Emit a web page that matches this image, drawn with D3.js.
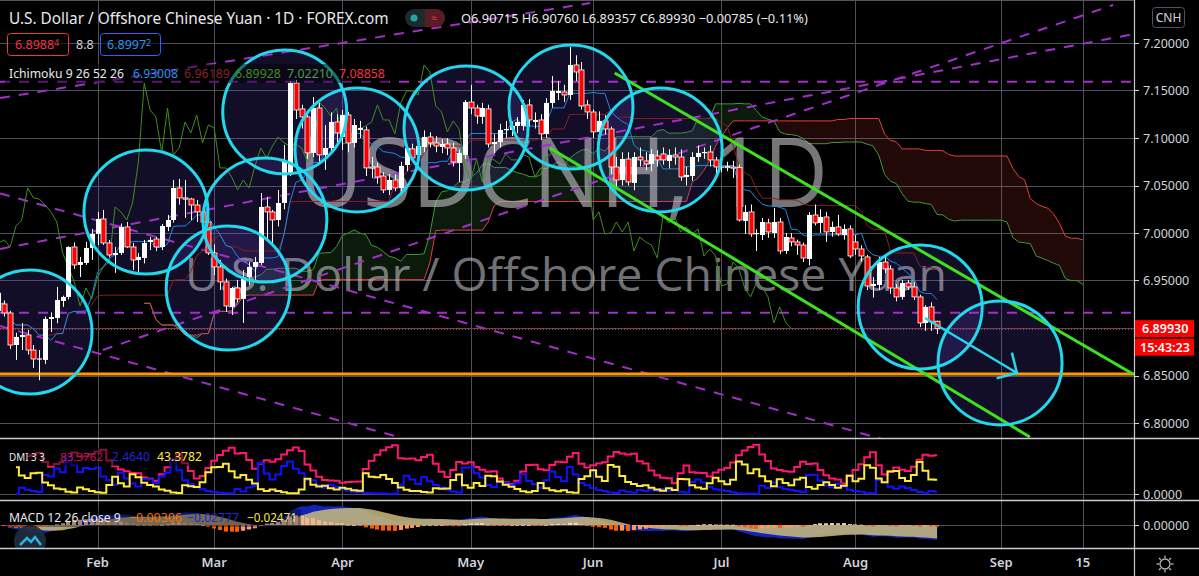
<!DOCTYPE html>
<html><head><meta charset="utf-8">
<script src="https://cdn.jsdelivr.net/npm/d3@7"></script>
<style>
html,body{margin:0;padding:0;background:#000;overflow:hidden;}
svg{display:block;}
</style></head><body>
<svg id="c" width="1199" height="576"></svg>
<script>
// ---------------- DATA ----------------
// daily OHLC, USD/CNH, 1D bars from 9 Jan 2020 to 21 Aug 2020
const ohlc = [
[6.918,6.940,6.912,6.937],[6.9253,6.929,6.912,6.9158],[6.9158,6.918,6.878,6.8821],[6.8821,6.895,6.8664,6.8906],
[6.8906,6.9053,6.8768,6.8927],[6.8927,6.898,6.872,6.8768],[6.8768,6.8821,6.858,6.8674],[6.8674,6.8768,6.845,6.868],
[6.8664,6.912,6.862,6.9095],[6.9095,6.9164,6.8958,6.9116],[6.9106,6.9432,6.905,6.9295],[6.9285,6.934,6.9222,6.9327],
[6.9327,6.986,6.930,6.9853],[6.9853,6.990,6.9622,6.9664],[6.9664,6.9748,6.9537,6.9695],[6.9685,6.9906,6.9664,6.9843],
[6.9843,7.0043,6.9716,6.999],
// Feb
[6.999,7.0222,6.9874,7.0148],[7.0148,7.0243,6.9874,6.9895],[6.9895,6.9927,6.975,6.9769],[6.9769,6.9853,6.958,6.979],
[6.979,7.010,6.9769,7.0064],[7.0064,7.0116,6.9843,6.9853],[6.9853,6.9895,6.9611,6.9716],[6.9716,6.979,6.958,6.9748],
[6.9737,6.9927,6.968,6.9895],[6.9906,6.9958,6.982,6.9927],[6.9937,6.996,6.981,6.9853],[6.9853,7.0095,6.982,7.0074],
[7.0064,7.019,7.002,7.0137],[7.0137,7.0558,7.011,7.0474],[7.0474,7.0569,7.030,7.0369],[7.0369,7.0558,7.016,7.0358],
[7.0358,7.037,7.0137,7.0295],[7.0295,7.0347,7.0116,7.0222],[7.0222,7.028,7.0011,7.0116],[7.0116,7.0137,6.9769,6.979],
// Mar
[6.979,6.988,6.9558,6.9643],[6.9643,6.9716,6.940,6.9485],[6.9485,6.952,6.917,6.9232],[6.9222,6.9432,6.9137,6.9421],
[6.9421,6.9506,6.927,6.9306],[6.9306,6.9611,6.9053,6.9537],[6.9537,6.9695,6.9453,6.9643],[6.9643,6.9748,6.9506,6.9695],
[6.9685,7.0421,6.9664,7.0274],[7.0274,7.038,6.9927,7.0222],[7.0222,7.0243,6.9874,7.0137],[7.0137,7.0453,7.007,7.0316],
[7.0316,7.0927,7.025,7.0748],[7.0632,7.160,7.060,7.1579],[7.1579,7.1611,7.120,7.1295],[7.1306,7.135,7.110,7.1222],
[7.1222,7.127,7.078,7.0843],[7.0843,7.1432,7.080,7.1316],[7.1316,7.137,7.075,7.0822],[7.0822,7.1137,7.0664,7.0895],
[7.0895,7.127,7.085,7.1169],[7.1169,7.125,7.095,7.1053],
// Apr
[7.1011,7.1295,7.0874,7.1243],[7.1243,7.1274,7.085,7.0948],[7.0948,7.120,7.090,7.1137],[7.1085,7.118,7.100,7.1106],
[7.1085,7.112,7.060,7.0685],[7.0695,7.080,7.058,7.0685],[7.0695,7.074,7.052,7.059],[7.060,7.064,7.042,7.0453],
[7.0453,7.062,7.040,7.0558],[7.0558,7.062,7.044,7.0474],[7.0474,7.075,7.043,7.0706],[7.0716,7.0927,7.065,7.0895],
[7.0885,7.094,7.075,7.079],[7.0822,7.095,7.074,7.0916],[7.0906,7.108,7.085,7.1011],[7.1011,7.106,7.090,7.0948],
[7.0948,7.102,7.085,7.0916],[7.0906,7.099,7.084,7.0937],[7.0937,7.100,7.082,7.0895],[7.0895,7.095,7.070,7.0748],
[7.0737,7.088,7.0537,7.0843],[7.0822,7.140,7.078,7.1379],
// May
[7.1379,7.1558,7.125,7.1316],[7.1316,7.135,7.115,7.1232],[7.1222,7.137,7.115,7.1316],[7.1306,7.135,7.090,7.0937],
[7.0937,7.104,7.084,7.0958],[7.0958,7.115,7.090,7.1085],[7.1085,7.118,7.100,7.1095],[7.1085,7.117,7.102,7.1127],
[7.1127,7.122,7.105,7.1169],[7.1127,7.140,7.108,7.1348],[7.1348,7.141,7.112,7.119],[7.1169,7.127,7.110,7.119],
[7.119,7.125,7.098,7.1043],[7.1043,7.142,7.100,7.1369],[7.1369,7.1653,7.132,7.1495],[7.1474,7.160,7.140,7.1495],
[7.1485,7.156,7.138,7.1453],[7.1453,7.196,7.140,7.1769],[7.1769,7.187,7.160,7.1695],[7.1716,7.180,7.130,7.1337],
[7.1348,7.140,7.120,7.1274],
// Jun
[7.1274,7.130,7.100,7.1064],[7.1064,7.128,7.098,7.118],[7.118,7.124,7.104,7.1095],[7.1095,7.112,7.062,7.0695],
[7.0695,7.080,7.048,7.0558],[7.0558,7.085,7.050,7.0779],[7.0779,7.085,7.050,7.0537],[7.0527,7.085,7.045,7.080],
[7.080,7.090,7.070,7.0769],[7.0758,7.085,7.066,7.0727],[7.0727,7.088,7.065,7.0832],[7.0811,7.087,7.070,7.0769],
[7.0832,7.090,7.072,7.0769],[7.0758,7.088,7.068,7.0822],[7.0822,7.090,7.072,7.080],[7.080,7.088,7.055,7.059],
[7.059,7.070,7.050,7.0611],[7.060,7.085,7.055,7.080],[7.080,7.092,7.075,7.0843],[7.0843,7.090,7.078,7.0853],
[7.0853,7.092,7.070,7.0769],[7.0769,7.080,7.060,7.0695],
// Jul
[7.0695,7.075,7.064,7.070],[7.070,7.075,7.065,7.0695],[7.0695,7.076,7.058,7.069],[7.069,7.072,7.012,7.0137],
[7.0127,7.0295,6.999,7.0222],[7.0222,7.030,6.996,6.999],[6.9995,7.004,6.981,7.000],[6.9979,7.0158,6.9927,7.0116],
[7.0106,7.015,6.995,7.0011],[7.000,7.0264,6.995,7.0116],[7.0116,7.0158,6.978,6.9811],[6.9811,7.000,6.978,6.9958],
[6.9948,7.000,6.986,6.9906],[6.9906,6.993,6.977,6.9874],[6.9874,6.990,6.9695,6.9737],[6.9727,7.022,6.966,7.019],
[7.019,7.030,7.008,7.0106],[7.0106,7.025,7.000,7.0169],[7.0169,7.022,6.9906,7.0011],[7.0011,7.012,6.996,7.0064],
[7.0064,7.019,6.997,6.999],[6.9979,7.009,6.993,7.0043],[7.0043,7.008,6.9737,6.9758],
// Aug
[6.9906,6.998,6.977,6.9832],[6.9832,6.987,6.970,6.9758],[6.9748,6.977,6.940,6.9442],[6.9442,6.9537,6.932,6.9464],
[6.9453,6.9748,6.940,6.9695],[6.9695,6.9758,6.958,6.9622],[6.9622,6.966,6.936,6.9421],[6.9421,6.946,6.928,6.9327],
[6.9327,6.9506,6.930,6.9474],[6.9474,6.9506,6.940,6.9432],[6.9432,6.948,6.9295,6.9327],[6.9327,6.935,6.901,6.9053],
[6.9053,6.924,6.897,6.9222],[6.9222,6.927,6.897,6.9064],[6.90715,6.9076,6.89357,6.8993]
];
const priceTicks = [7.20,7.15,7.10,7.05,7.00,6.95,6.90,6.85,6.80];
const tickLabels = ['Feb','Mar','Apr','May','Jun','Jul','Aug','Sep','15'];
const tickBars   = [17,37,59,81,102,124,147,172,186];
const lastPrice = 6.8993;
const supportLevel = 6.8515;
const dashedLevels = [7.1593, 6.9161];
// drawings: [bar1, price1, bar2, price2]
const dashedTrends = [[0.26,7.1421,101.5,7.2421],[0.26,6.9832,194.8,7.2095],[17.9,6.8768,191.2,7.240],
  [0.26,7.0417,154.6,6.7779],[0.26,6.9021,68.87,6.7848]];
const channelLines = [[105.7,7.1684,194.6,6.8516],[94.6,7.0895,176.9,6.7853]];
const circleCenters = [[5.41,6.8958],[25.3,7.0221],[39.4,6.9421],[45.7,7.0137],[49.1,7.1274],[61.5,7.0874],
  [80.2,7.1105],[98.2,7.1326],[113.5,7.0874],[158.1,6.9221],[171.8,6.8632]];
const arrowLine = [[158.9,6.9105],[174.7,6.8526]];

// ---------------- INDICATORS (derived from ohlc) ----------------
const N = ohlc.length;
const H = ohlc.map(d=>d[1]), L = ohlc.map(d=>d[2]), C = ohlc.map(d=>d[3]);
function hh(i,n){let m=-Infinity;for(let k=Math.max(0,i-n+1);k<=i;k++)m=Math.max(m,H[k]);return m;}
function ll(i,n){let m=Infinity;for(let k=Math.max(0,i-n+1);k<=i;k++)m=Math.min(m,L[k]);return m;}
const conv = C.map((_,i)=>(hh(i,9)+ll(i,9))/2);
const base = C.map((_,i)=>(hh(i,26)+ll(i,26))/2);
const spans = C.map((_,i)=>({bar:i+25, a:(conv[i]+base[i])/2, b:(hh(i,52)+ll(i,52))/2}));
const lagging = C.map((c,i)=>[i-25,c]).filter(d=>d[0]>=0);

function rma(src,len){const out=src.map(()=>NaN);let s=0,c=0,p=NaN;
  for(let i=0;i<src.length;i++){const v=src[i];if(isNaN(v))continue;
    if(isNaN(p)){s+=v;c++;if(c===len){p=s/len;out[i]=p;}}else{p=(p*(len-1)+v)/len;out[i]=p;}}return out;}
const pDM=[NaN],mDM=[NaN],TR=[NaN];
for(let i=1;i<N;i++){const up=H[i]-H[i-1],dn=L[i-1]-L[i];
  pDM.push(up>dn&&up>0?up:0);mDM.push(dn>up&&dn>0?dn:0);
  TR.push(Math.max(H[i]-L[i],Math.abs(H[i]-C[i-1]),Math.abs(L[i]-C[i-1])));}
const trR=rma(TR,3),pR=rma(pDM,3),mR=rma(mDM,3);
const plusDI=trR.map((t,i)=>100*pR[i]/t), minusDI=trR.map((t,i)=>100*mR[i]/t);
const dx=plusDI.map((p,i)=>{const s=p+minusDI[i];return isNaN(s)?NaN:Math.abs(p-minusDI[i])/(s===0?1:s);});
const adx=rma(dx,3).map(v=>100*v);
function ema(src,len){const a=2/(len+1);const out=[];let p=NaN;
  src.forEach(v=>{p=isNaN(p)?v:a*v+(1-a)*p;out.push(p);});return out;}
const e12=ema(C,12),e26=ema(C,26);
const macd=e12.map((v,i)=>v-e26[i]);
const signal=ema(macd,9);
const hist=macd.map((v,i)=>v-signal[i]);

// ---------------- SCALES ----------------
const PW = 1134;
const x = d3.scaleLinear().domain([0,200]).range([-1.53,-1.53+5.83*200]);
const yP = d3.scaleLinear().domain([6.80,7.20]).range([423,43]);
const yD = d3.scaleLinear().domain([0,100]).range([494,439]);
const yM = d3.scaleLinear().domain([-0.04,0.04]).range([546.6,503.4]);

const svg = d3.select('#c');
const UI = '"Noto Sans","Open Sans",sans-serif';
svg.append('rect').attr('width',1199).attr('height',576).attr('fill','#000');
const defs = svg.append('defs');
defs.append('clipPath').attr('id','cp').append('rect').attr('x',0).attr('y',2).attr('width',PW).attr('height',436);
defs.append('clipPath').attr('id','cd').append('rect').attr('x',0).attr('y',439).attr('width',PW).attr('height',61);
defs.append('clipPath').attr('id','cm').append('rect').attr('x',0).attr('y',501).attr('width',PW).attr('height',47);

const GRID = '#4e515c';
// grid
const grid = svg.append('g');
grid.selectAll('.hg').data(priceTicks).join('line')
  .attr('x1',0).attr('x2',PW).attr('y1',d=>Math.round(yP(d))+0.5).attr('y2',d=>Math.round(yP(d))+0.5)
  .attr('stroke',GRID);
grid.selectAll('.vg').data(tickBars).join('line')
  .attr('x1',d=>Math.round(x(d))+0.5).attr('x2',d=>Math.round(x(d))+0.5).attr('y1',0).attr('y2',548)
  .attr('stroke',GRID);
grid.append('line').attr('x1',0).attr('x2',PW).attr('y1',yD(0)+0.5).attr('y2',yD(0)+0.5).attr('stroke',GRID);
grid.append('line').attr('x1',0).attr('x2',PW).attr('y1',yM(0)+0.5).attr('y2',yM(0)+0.5).attr('stroke',GRID);

// ---------------- PRICE PANE ----------------
const gp = svg.append('g').attr('clip-path','url(#cp)');
// cloud
const areaG = d3.area().x(d=>x(d.bar)).y0(d=>yP(d.b)).y1(d=>yP(Math.max(d.a,d.b)));
const areaR = d3.area().x(d=>x(d.bar)).y0(d=>yP(d.a)).y1(d=>yP(Math.max(d.a,d.b)));
gp.append('path').datum(spans).attr('d',areaG).attr('fill','rgba(67,160,71,0.16)');
gp.append('path').datum(spans).attr('d',areaR).attr('fill','rgba(244,67,54,0.13)');
const ln = d3.line().x(d=>x(d[0])).y(d=>yP(d[1]));
gp.append('path').datum(spans.map(d=>[d.bar,d.a])).attr('d',ln).attr('fill','none').attr('stroke','#3f9a35').attr('stroke-width',1);
gp.append('path').datum(spans.map(d=>[d.bar,d.b])).attr('d',ln).attr('fill','none').attr('stroke','#e0403a').attr('stroke-width',1);

// circle fills
const R = 62;
gp.selectAll('.cf').data(circleCenters).join('circle')
  .attr('cx',d=>x(d[0])).attr('cy',d=>yP(d[1])).attr('r',R)
  .attr('fill','rgba(95,70,200,0.2)');

// watermark
gp.append('text').text('USDCNH, 1D').attr('x',563).attr('y',207).attr('text-anchor','middle')
  .attr('font-family','"Open Sans",sans-serif').attr('font-size',97)
  .attr('textLength',530).attr('lengthAdjust','spacingAndGlyphs')
  .attr('fill','rgba(190,190,196,0.62)');
gp.append('text').text('U.S. Dollar / Offshore Chinese Yuan').attr('x',566).attr('y',291).attr('text-anchor','middle')
  .attr('font-family','"Open Sans",sans-serif').attr('font-size',46)
  .attr('textLength',762).attr('lengthAdjust','spacingAndGlyphs')
  .attr('fill','rgba(190,190,196,0.62)');

// dashed drawings
gp.selectAll('.dl').data(dashedLevels).join('line')
  .attr('x1',0).attr('x2',PW).attr('y1',d=>yP(d)).attr('y2',d=>yP(d))
  .attr('stroke','#a22fc9').attr('stroke-width',2).attr('stroke-dasharray','10,9');
gp.selectAll('.dt').data(dashedTrends).join('line')
  .attr('x1',d=>x(d[0])).attr('y1',d=>yP(d[1])).attr('x2',d=>x(d[2])).attr('y2',d=>yP(d[3]))
  .attr('stroke','#a22fc9').attr('stroke-width',2).attr('stroke-dasharray','10,9');
// support
gp.append('line').attr('x1',0).attr('x2',PW).attr('y1',yP(supportLevel)).attr('y2',yP(supportLevel))
  .attr('stroke','#ff9800').attr('stroke-width',3);
// last price line
gp.append('line').attr('x1',0).attr('x2',PW).attr('y1',Math.round(yP(lastPrice))+0.5).attr('y2',Math.round(yP(lastPrice))+0.5)
  .attr('stroke','#ff1a1a').attr('stroke-width',1).attr('stroke-dasharray','1,2');

// ichimoku lines
gp.append('path').datum(lagging).attr('d',ln).attr('fill','none').attr('stroke','#3e8e1c').attr('stroke-width',1);
gp.append('path').datum(base.map((v,i)=>[i,v])).attr('d',ln).attr('fill','none').attr('stroke','#8a1f22').attr('stroke-width',1);
gp.append('path').datum(conv.map((v,i)=>[i,v])).attr('d',ln).attr('fill','none').attr('stroke','#1e88e5').attr('stroke-width',1);

// candles
const cg = gp.append('g');
cg.selectAll('.wk').data(ohlc).join('line')
  .attr('x1',(d,i)=>Math.round(x(i))+0.5).attr('x2',(d,i)=>Math.round(x(i))+0.5)
  .attr('y1',d=>yP(d[1])).attr('y2',d=>yP(d[2])).attr('stroke','#fff').attr('stroke-width',1);
cg.selectAll('.bd').data(ohlc).join('rect')
  .attr('x',(d,i)=>Math.round(x(i))-2)
  .attr('width',5)
  .attr('y',d=>yP(Math.max(d[0],d[3])))
  .attr('height',d=>Math.max(1.2,Math.abs(yP(d[0])-yP(d[3]))))
  .attr('fill',d=>d[3]>=d[0]?'#ffffff':'#ff0000')
  .attr('stroke',d=>d[3]>=d[0]?'none':'#ffffff').attr('stroke-width',0.8);

// channel lines
gp.selectAll('.ch').data(channelLines).join('line')
  .attr('x1',d=>x(d[0])).attr('y1',d=>yP(d[1])).attr('x2',d=>x(d[2])).attr('y2',d=>yP(d[3]))
  .attr('stroke','#3be21d').attr('stroke-width',3);
// circle strokes
gp.selectAll('.cs').data(circleCenters).join('circle')
  .attr('cx',d=>x(d[0])).attr('cy',d=>yP(d[1])).attr('r',R)
  .attr('fill','none').attr('stroke','#22d8ec').attr('stroke-width',3);
// arrow
{
  const [p0,p1]=arrowLine;
  const x0=x(p0[0]),y0=yP(p0[1]),x1=x(p1[0]),y1=yP(p1[1]);
  const ang=Math.atan2(y1-y0,x1-x0)+Math.PI;
  const hl=21, sp=Math.PI/4;
  gp.append('path')
    .attr('d',`M${x0},${y0}L${x1},${y1}M${x1+hl*Math.cos(ang-sp)},${y1+hl*Math.sin(ang-sp)}L${x1},${y1}L${x1+hl*Math.cos(ang+sp)},${y1+hl*Math.sin(ang+sp)}`)
    .attr('fill','none').attr('stroke','#22d8ec').attr('stroke-width',2.5);
}

// ---------------- DMI PANE ----------------
// colours as in the reference: ADX pink, +DI blue, -DI yellow
const gd = svg.append('g').attr('clip-path','url(#cd)');
const lnD = d3.line().defined(d=>!isNaN(d[1])).x(d=>x(d[0])).y(d=>yD(d[1])).curve(d3.curveStep);
gd.append('path').datum(adx.map((v,i)=>[i,v])).attr('d',lnD).attr('fill','none').attr('stroke','#ff1670').attr('stroke-width',2);
gd.append('path').datum(plusDI.map((v,i)=>[i,v])).attr('d',lnD).attr('fill','none').attr('stroke','#1010ff').attr('stroke-width',2);
gd.append('path').datum(minusDI.map((v,i)=>[i,v])).attr('d',lnD).attr('fill','none').attr('stroke','#ffeb3b').attr('stroke-width',2);

// ---------------- MACD PANE ----------------
const gm = svg.append('g').attr('clip-path','url(#cm)');
const arM = d3.area().x(d=>x(d[0])).y0(yM(0)).y1(d=>yM(d[1]));
gm.append('path').datum(macd.map((v,i)=>[i,v])).attr('d',arM).attr('fill','#1224b8');
gm.append('path').datum(signal.map((v,i)=>[i,v])).attr('d',arM).attr('fill','rgba(200,186,122,0.86)');
gm.selectAll('.hb').data(hist).join('rect')
  .attr('x',(d,i)=>Math.round(x(i))-2).attr('width',4)
  .attr('y',d=>Math.min(yM(0),yM(d))).attr('height',d=>Math.max(1,Math.abs(yM(d)-yM(0))))
  .attr('fill',(d,i)=>{const pr=i>0?hist[i-1]:d; if(d>=0) return d>=pr?'#ffcdb8':'#f3b48a'; return d<pr?'#ff5a00':'#ff9a50';});
// logo
gm.append('circle').attr('cx',30).attr('cy',541).attr('r',16).attr('fill','rgba(30,45,62,0.9)');
gm.append('path').attr('d','M20,545 L27,538 L31,542 L35,537 L41,545').attr('fill','none').attr('stroke','#2ab3e6').attr('stroke-width',2.5);

// ---------------- SEPARATORS / AXES ----------------
const SEP='#c9cbd1';
[438.5,500.5,548.5].forEach(yy=>svg.append('line').attr('x1',0).attr('x2',1199).attr('y1',yy).attr('y2',yy).attr('stroke',SEP).attr('stroke-width',1.5));
svg.append('line').attr('x1',PW+0.5).attr('x2',PW+0.5).attr('y1',0).attr('y2',576).attr('stroke',SEP).attr('stroke-width',1.2);
svg.append('line').attr('x1',0).attr('x2',PW).attr('y1',0.5).attr('y2',0.5).attr('stroke','#555');

const ax = svg.append('g');
const AXC='#d1d4dc';
ax.selectAll('.pt').data(priceTicks).join('line')
  .attr('x1',PW).attr('x2',PW+5).attr('y1',d=>Math.round(yP(d))+0.5).attr('y2',d=>Math.round(yP(d))+0.5).attr('stroke',AXC);
ax.selectAll('.pl').data(priceTicks).join('text').text(d=>d.toFixed(5))
  .attr('x',PW+9).attr('y',d=>yP(d)+4.5).attr('fill',AXC).attr('font-family',UI).attr('font-size',12.5);
[[yD(0),'0.0000'],[yM(0),'0.00000']].forEach(([yy,t])=>{
  ax.append('line').attr('x1',PW).attr('x2',PW+5).attr('y1',Math.round(yy)+0.5).attr('y2',Math.round(yy)+0.5).attr('stroke',AXC);
  ax.append('text').text(t).attr('x',PW+9).attr('y',yy+4.5).attr('fill',AXC).attr('font-family',UI).attr('font-size',12.5);
});
// last price labels
ax.append('rect').attr('x',PW+1).attr('y',yP(lastPrice)-8.5).attr('width',59).attr('height',17).attr('fill','#ff0000');
ax.append('text').text(lastPrice.toFixed(5)).attr('x',PW+8).attr('y',yP(lastPrice)+4.5).attr('fill','#fff').attr('font-family',UI).attr('font-size',12.5).attr('font-weight',600);
ax.append('rect').attr('x',PW+1).attr('y',yP(lastPrice)+10).attr('width',59).attr('height',17).attr('fill','#ff0000');
ax.append('text').text('15:43:23').attr('x',PW+6).attr('y',yP(lastPrice)+23).attr('fill','#fff').attr('font-family',UI).attr('font-size',12.5).attr('font-weight',600);
// time axis
ax.selectAll('.tl').data(tickBars).join('text').text((d,i)=>tickLabels[i])
  .attr('x',d=>x(d)).attr('y',567).attr('text-anchor','middle').attr('fill',AXC)
  .attr('font-family',UI).attr('font-size',13).attr('font-weight',600);
// gear icon
{
  const g=ax.append('g').attr('transform','translate(1165,564)').attr('stroke','#b2b5be').attr('fill','none');
  g.append('circle').attr('r',5).attr('stroke-width',1.3);
  d3.range(8).forEach(k=>{const a=k*Math.PI/4;g.append('line').attr('x1',6*Math.cos(a)).attr('y1',6*Math.sin(a)).attr('x2',8.5*Math.cos(a)).attr('y2',8.5*Math.sin(a)).attr('stroke-width',1.3);});
}
// CNH box
ax.append('rect').attr('x',1152.5).attr('y',7.5).attr('width',32).attr('height',20).attr('rx',3).attr('fill','none').attr('stroke','#50535e');
ax.append('text').text('CNH').attr('x',1168.5).attr('y',22).attr('text-anchor','middle').attr('fill',AXC).attr('font-family',UI).attr('font-size',12);

// ---------------- LEGENDS ----------------
const lg = svg.append('g').attr('font-family',UI);
function fitW(sel,w){const L=sel.node().getComputedTextLength();if(L>0)sel.attr('font-size',parseFloat(sel.attr('font-size'))*w/L);return sel;}
fitW(lg.append('text').text('U.S. Dollar / Offshore Chinese Yuan · 1D · FOREX.com').attr('x',9).attr('y',24).attr('fill','#e8e9ec').attr('font-size',15),380);
// toggle
lg.append('rect').attr('x',405).attr('y',9).attr('width',40).attr('height',18).attr('rx',9).attr('fill','#1d2a2c');
lg.append('path').attr('d','M425,9 H436 A9,9 0 0 1 436,27 H425 Z').attr('fill','#5a1c24');
lg.append('circle').attr('cx',414).attr('cy',18).attr('r',3.5).attr('fill','#1fa8a0');
lg.append('text').text('≈').attr('x',434).attr('y',22).attr('text-anchor','middle').attr('fill','#d8405a').attr('font-size',11);
fitW(lg.append('text').text('O6.90715 H6.90760 L6.89357 C6.89930 −0.00785 (−0.11%)').attr('x',461).attr('y',23).attr('fill','#e8e9ec').attr('font-size',13),347);
// price boxes
lg.append('rect').attr('x',7.5).attr('y',33.5).attr('width',61).attr('height',22).attr('rx',3).attr('fill','rgba(0,0,0,0.6)').attr('stroke','#f23645');
{const t=lg.append('text').attr('x',15).attr('y',49).attr('fill','#f23645').attr('font-size',12.5);
 t.append('tspan').text('6.8988');t.append('tspan').text('4').attr('font-size',9).attr('dy',-3);}
lg.append('text').text('8.8').attr('x',76).attr('y',49).attr('fill','#d1d4dc').attr('font-size',12.5);
lg.append('rect').attr('x',100.5).attr('y',33.5).attr('width',60).attr('height',22).attr('rx',3).attr('fill','rgba(0,0,0,0.6)').attr('stroke','#2962ff');
{const t=lg.append('text').attr('x',107).attr('y',49).attr('fill','#2196f3').attr('font-size',12.5);
 t.append('tspan').text('6.8997');t.append('tspan').text('2').attr('font-size',9).attr('dy',-3);}
// ichimoku legend
lg.append('rect').attr('x',5).attr('y',64).attr('width',384).attr('height',19).attr('fill','rgba(0,0,0,0.45)');
const ichiItems=[['Ichimoku 9 26 52 26','#e8e9ec',9,115],['6.93008','#2196f3',133,45],['6.96189','#8a2024',184,46],
  ['6.89928','#3e8e1c',235,46],['7.02210','#43a047',287,46],['7.08858','#f23645',339,46]];
ichiItems.forEach(([t,c,xx,w])=>fitW(lg.append('text').text(t).attr('x',xx).attr('y',78).attr('fill',c).attr('font-size',13),w));
// DMI legend
lg.append('rect').attr('x',5).attr('y',448).attr('width',200).attr('height',18).attr('fill','rgba(0,0,0,0.45)');
const dmiItems=[['DMI 3 3','#e8e9ec',9,36],['83.3762','#c2185b',60,43],['2.4640','#2424d8',112,38],['43.3782','#ffeb3b',157,45]];
dmiItems.forEach(([t,c,xx,w])=>fitW(lg.append('text').text(t).attr('x',xx).attr('y',461).attr('fill',c).attr('font-size',13),w));
// MACD legend
lg.append('rect').attr('x',5).attr('y',509).attr('width',296).attr('height',18).attr('fill','rgba(0,0,0,0.35)');
const macdItems=[['MACD 12 26 close 9','#e8e9ec',9,112],['−0.00306','#ff6d00',129,53],['−0.02777','#2424d8',187,52],['−0.02471','#ffeb3b',247,50]];
macdItems.forEach(([t,c,xx,w])=>fitW(lg.append('text').text(t).attr('x',xx).attr('y',522).attr('fill',c).attr('font-size',13),w));
</script></body></html>
